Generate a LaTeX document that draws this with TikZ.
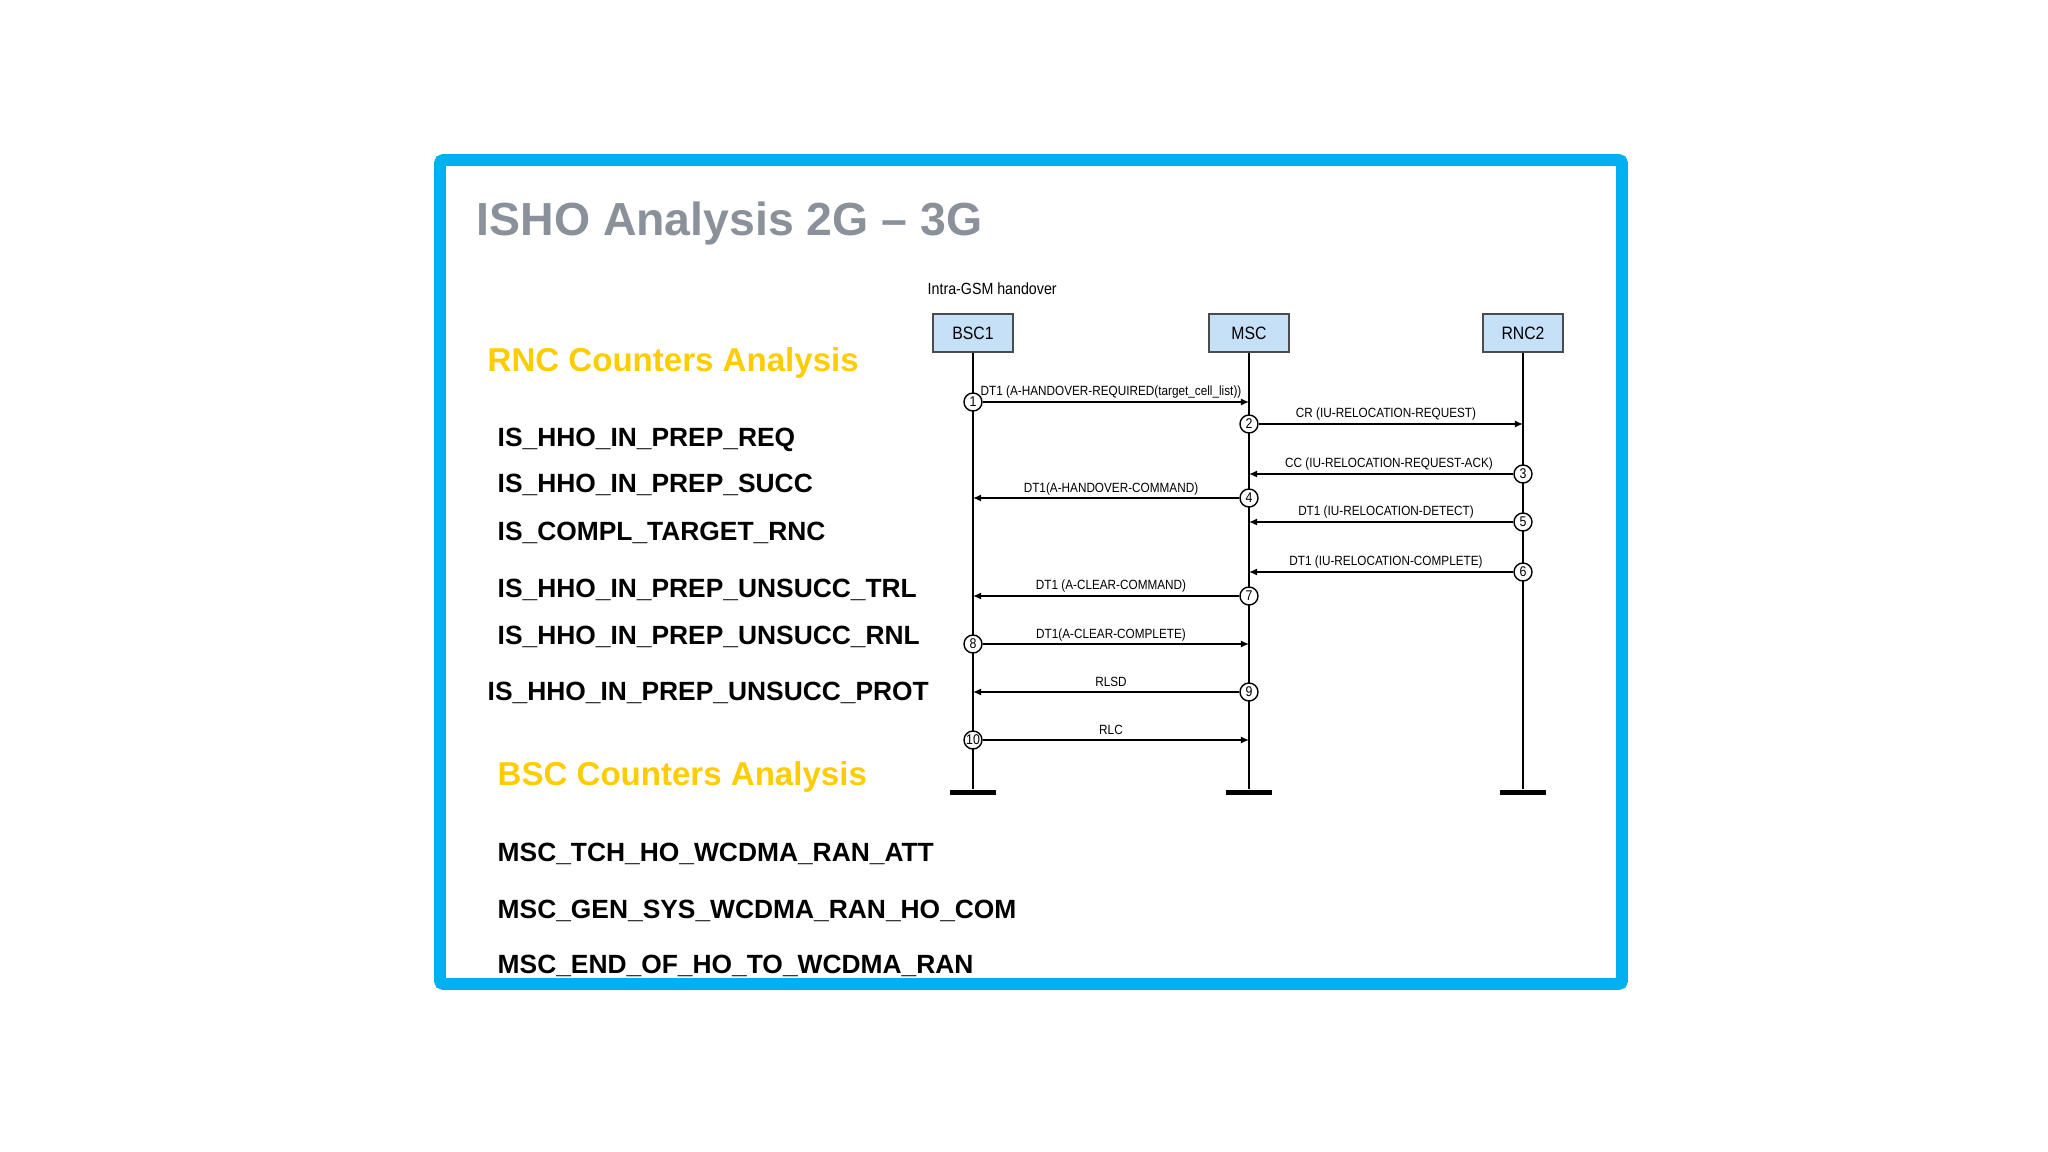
\documentclass[tikz,border=0pt]{standalone}
\usepackage{fontspec}
\setmainfont{Liberation Sans}
\newfontfamily\seqfont{Liberation Sans}[FakeStretch=0.88]
\usepackage{xcolor}
\usepackage{tikz}
\usetikzlibrary{positioning, arrows.meta}

\definecolor{framecyan}{RGB}{0,176,240}
\definecolor{titlegray}{RGB}{138,145,155}
\definecolor{headyellow}{RGB}{255,204,0}
\definecolor{boxblue}{RGB}{198,224,248}

\begin{document}
\begin{tikzpicture}[x=0.01cm, y=-0.01cm,
    >={Latex[length=2.3pt,width=2pt]},
    slidetitle/.style={anchor=base west, inner sep=0, text=titlegray, font=\fontsize{13.2}{15}\selectfont\bfseries},
    heading/.style={anchor=base west, inner sep=0, text=headyellow, font=\fontsize{9.4}{11}\selectfont\bfseries},
    counter/.style={anchor=base west, inner sep=0, font=\fontsize{7.5}{9}\selectfont\bfseries},
    entity/.style={draw=black!70, fill=boxblue, minimum width=0.8cm, minimum height=0.38cm, inner sep=0, font=\seqfont\fontsize{5.1}{6}\selectfont},
    num/.style={draw, circle, fill=white, minimum size=0.18cm, inner sep=0, font=\seqfont\fontsize{4}{5}\selectfont},
    msglbl/.style={anchor=base, inner sep=0, font=\seqfont\fontsize{3.8}{4.5}\selectfont},
    msg/.style={->, line width=0.4pt},
    life/.style={line width=0.6pt},
    endbar/.style={fill=black, minimum width=0.46cm, minimum height=0.05cm, inner sep=0}]

      \useasboundingbox (0,0) rectangle (2048,1152);
      \fill[white] (0,0) rectangle (2048,1152);

      % Frame
      \draw[framecyan, line width=3.4pt, rounded corners=1pt] (440,160) rectangle (1622,984);

      % Title
      \node[slidetitle] (title) at (476,236) {ISHO Analysis 2G – 3G};

      % RNC counters
      \node[heading] (rnchead) at (487,372) {RNC Counters Analysis};
      \node[counter] (cnt1) at (497,447) {IS\_HHO\_IN\_PREP\_REQ};
      \node[counter] (cnt2) at (497,493) {IS\_HHO\_IN\_PREP\_SUCC};
      \node[counter] (cnt3) at (497,541) {IS\_COMPL\_TARGET\_RNC};
      \node[counter] (cnt4) at (497,597) {IS\_HHO\_IN\_PREP\_UNSUCC\_TRL};
      \node[counter] (cnt5) at (497,644) {IS\_HHO\_IN\_PREP\_UNSUCC\_RNL};
      \node[counter] (cnt6) at (487,700) {IS\_HHO\_IN\_PREP\_UNSUCC\_PROT};

      % BSC counters
      \node[heading] (bschead) at (497,785) {BSC Counters Analysis};
      \node[counter] (cnt7) at (497,861) {MSC\_TCH\_HO\_WCDMA\_RAN\_ATT};
      \node[counter] (cnt8) at (497,918) {MSC\_GEN\_SYS\_WCDMA\_RAN\_HO\_COM};
      \node[counter] (cnt9) at (497,973) {MSC\_END\_OF\_HO\_TO\_WCDMA\_RAN};

      % Entities
      \node[anchor=base west, inner sep=0, font=\seqfont\fontsize{4.6}{5.5}\selectfont] (caption) at (927,295) {Intra-GSM handover};
      \node[entity] (bsc) at (973,333) {BSC1};
      \node[entity] (msc) at (1249,333) {MSC};
      \node[entity] (rnc) at (1523,333) {RNC2};

      % Lifelines
      \node[endbar] (bscbar) at (973,792) {};
      \node[endbar] (mscbar) at (1249,792) {};
      \node[endbar] (rncbar) at (1523,792) {};
      \draw[life] (bsc) -- (bscbar);
      \draw[life] (msc) -- (mscbar);
      \draw[life] (rnc) -- (rncbar);

      % Messages
      \node[num] (c1) at (973,402) {1};
      \draw[msg] (c1) -- (c1 -| msc);
      \node[msglbl] (l1) at (1111,396) {DT1 (A-HANDOVER-REQUIRED(target\_cell\_list))};

      \node[num] (c2) at (1249,424) {2};
      \draw[msg] (c2) -- (c2 -| rnc);
      \node[msglbl] (l2) at (1386,418) {CR (IU-RELOCATION-REQUEST)};

      \node[num] (c3) at (1523,474) {3};
      \draw[msg] (c3) -- (c3 -| msc);
      \node[msglbl] (l3) at (1389,468) {CC (IU-RELOCATION-REQUEST-ACK)};

      \node[num] (c4) at (1249,498) {4};
      \draw[msg] (c4) -- (c4 -| bsc);
      \node[msglbl] (l4) at (1111,492) {DT1(A-HANDOVER-COMMAND)};

      \node[num] (c5) at (1523,522) {5};
      \draw[msg] (c5) -- (c5 -| msc);
      \node[msglbl] (l5) at (1386,516) {DT1 (IU-RELOCATION-DETECT)};

      \node[num] (c6) at (1523,572) {6};
      \draw[msg] (c6) -- (c6 -| msc);
      \node[msglbl] (l6) at (1386,566) {DT1 (IU-RELOCATION-COMPLETE)};

      \node[num] (c7) at (1249,596) {7};
      \draw[msg] (c7) -- (c7 -| bsc);
      \node[msglbl] (l7) at (1111,590) {DT1 (A-CLEAR-COMMAND)};

      \node[num] (c8) at (973,644) {8};
      \draw[msg] (c8) -- (c8 -| msc);
      \node[msglbl] (l8) at (1111,638) {DT1(A-CLEAR-COMPLETE)};

      \node[num] (c9) at (1249,692) {9};
      \draw[msg] (c9) -- (c9 -| bsc);
      \node[msglbl] (l9) at (1111,686) {RLSD};

      \node[num] (c10) at (973,740) {10};
      \draw[msg] (c10) -- (c10 -| msc);
      \node[msglbl] (l10) at (1111,734) {RLC};
    \end{tikzpicture}
\end{document}
